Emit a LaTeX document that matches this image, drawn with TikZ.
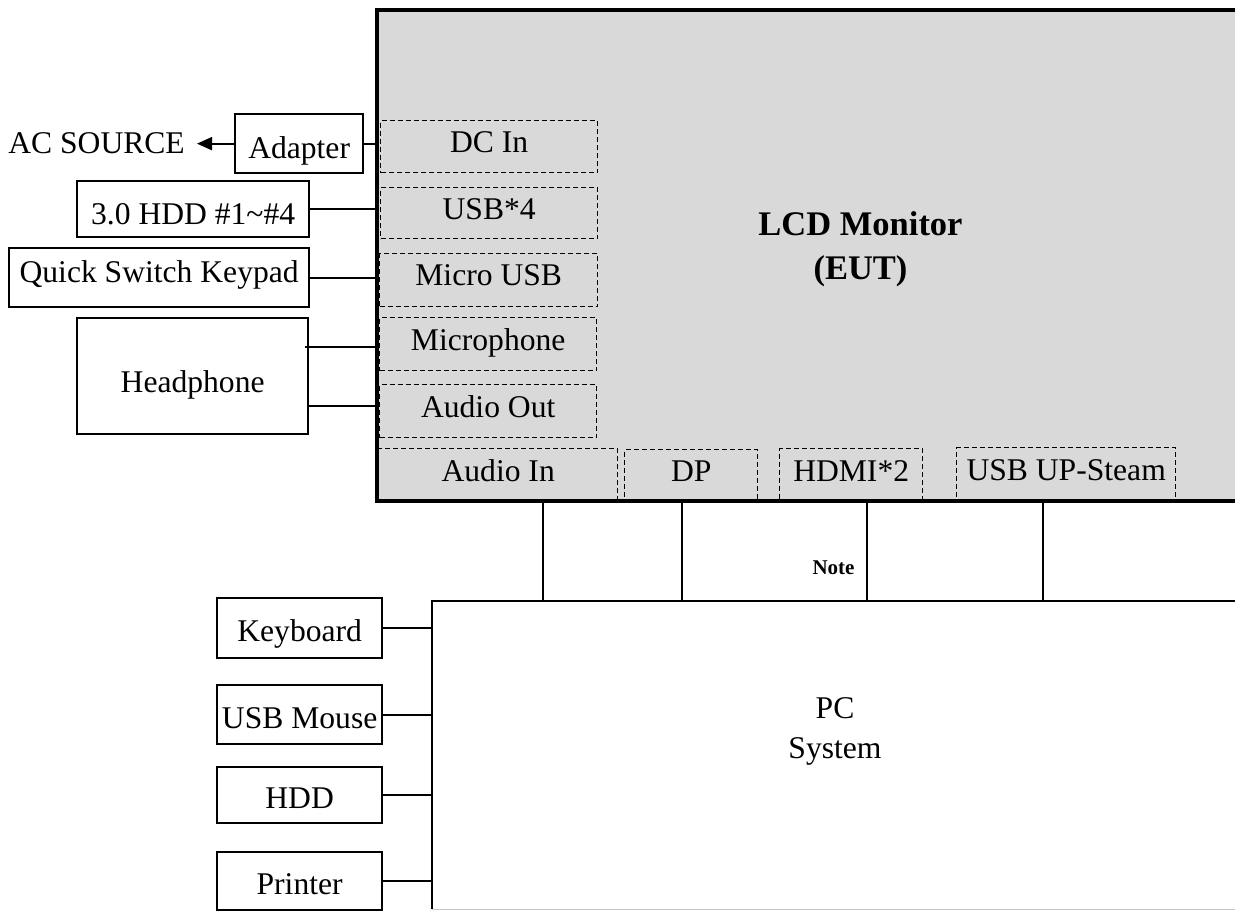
\documentclass[tikz,border=0pt]{standalone}
\usepackage{fontspec}
\setmainfont{Liberation Serif}
\usetikzlibrary{arrows.meta}
\definecolor{lcdgray}{RGB}{217,217,217}
\definecolor{edgegray}{RGB}{200,200,200}
\begin{document}
\begin{tikzpicture}[x=1pt,y=-1pt,
  every node/.style={font=\fontsize{31.6pt}{38pt}\selectfont, inner sep=0pt},
  extbox/.style={draw, line width=2.3pt, anchor=north west, text height=27pt, text depth=0pt},
  port/.style={draw, dash pattern=on 5pt off 3pt, line width=1.4pt, anchor=north west, text height=22pt, text depth=10pt},
  wire/.style={line width=2pt},
]
\clip (0,0) rectangle (1235,911);
% LCD monitor body
\node[fill=lcdgray, anchor=north west, minimum width=880pt, minimum height=490.7pt] (lcd) at (376.7,10.3) {};
% ports
\node[port, minimum width=217pt, minimum height=52pt] (dcin) at (380,120) {DC In};
\node[port, minimum width=217pt, minimum height=51pt] (usb4) at (380,187) {USB*4};
\node[port, minimum width=218pt, minimum height=53pt, text height=20pt, text depth=10pt] (microusb) at (379,253) {Micro USB};
\node[port, minimum width=217pt, minimum height=53pt] (mic) at (379,317) {Microphone};
\node[port, minimum width=217pt, minimum height=53pt] (audioout) at (379,384) {Audio Out};
\node[port, minimum width=239pt, minimum height=53pt] (audioin) at (378,448) {Audio In};
\node[port, minimum width=133pt, minimum height=52pt] (dp) at (624,449) {DP};
\node[port, minimum width=143pt, minimum height=53pt] (hdmi) at (779,448) {HDMI*2};
\node[port, minimum width=219pt, minimum height=54pt] (usbup) at (956,447) {USB UP-Steam};
\draw[line width=4pt] (lcd.south west) rectangle (lcd.north east);
\node[font=\fontsize{34.5pt}{44pt}\selectfont\bfseries, align=center] (lcdlabel) at (860.5,249) {LCD Monitor\\(EUT)};

% external devices of the monitor
\node[anchor=base east] (acsrc) at (185,153) {AC SOURCE};
\node[extbox, minimum width=128pt, minimum height=59pt, text height=30pt] (adapter) at (234,113) {Adapter};
\node[extbox, minimum width=232pt, minimum height=56pt, text height=30pt] (hdd30) at (76,180) {3.0 HDD \#1\textasciitilde\#4};
\node[extbox, minimum width=300pt, minimum height=59pt, text height=20pt, text depth=10pt] (keypad) at (8,247) {Quick Switch Keypad};
\node[extbox, minimum width=231pt, minimum height=116pt, text height=32pt] (headphone) at (76,317) {Headphone};

\draw[wire, -{Triangle[length=15pt, width=13pt]}] (adapter.west) -- ([xshift=12pt]acsrc.east |- adapter.west);
\draw[wire] (adapter.east) -- (adapter.east -| lcd.west);
\draw[wire] (hdd30.east) -- (hdd30.east -| lcd.west);
\draw[wire] (keypad.east) -- (keypad.east -| lcd.west);
\coordinate (hp1) at (305,347);
\coordinate (hp2) at (307,406);
\draw[wire] (hp1) -- (hp1 -| lcd.west);
\draw[wire] (hp2) -- (hp2 -| lcd.west);

% PC system
\node[anchor=north west, minimum width=820pt, minimum height=308pt] (pc) at (432,601) {};
\draw[line width=2.4pt] (pc.south west) -- (pc.north west) -- (pc.north east);
\draw[edgegray, line width=1pt] (pc.south west) -- (pc.south east);
\node[align=center, font=\fontsize{31.6pt}{40pt}\selectfont] (pclabel) at (835,731) {PC\\System};

\coordinate (b1) at (543,501);
\coordinate (b2) at (682,501);
\coordinate (b3) at (867,501);
\coordinate (b4) at (1043,501);
\foreach \c in {b1,b2,b3,b4} \draw[wire] (\c) -- (\c |- pc.north);
\node[font=\fontsize{21pt}{24pt}\selectfont\bfseries] (note) at (833.5,568) {Note};

% PC peripherals
\node[extbox, minimum width=165pt, minimum height=60pt] (keyboard) at (216,597) {Keyboard};
\node[extbox, minimum width=165pt, minimum height=59pt] (mouse) at (216,684) {USB Mouse};
\node[extbox, minimum width=165pt, minimum height=56pt] (hdd) at (216,766) {HDD};
\node[extbox, minimum width=165pt, minimum height=58pt] (printer) at (216,851) {Printer};
\foreach \d in {keyboard,mouse,hdd,printer} \draw[wire] (\d.east) -- (\d.east -| pc.west);
\end{tikzpicture}
\end{document}
